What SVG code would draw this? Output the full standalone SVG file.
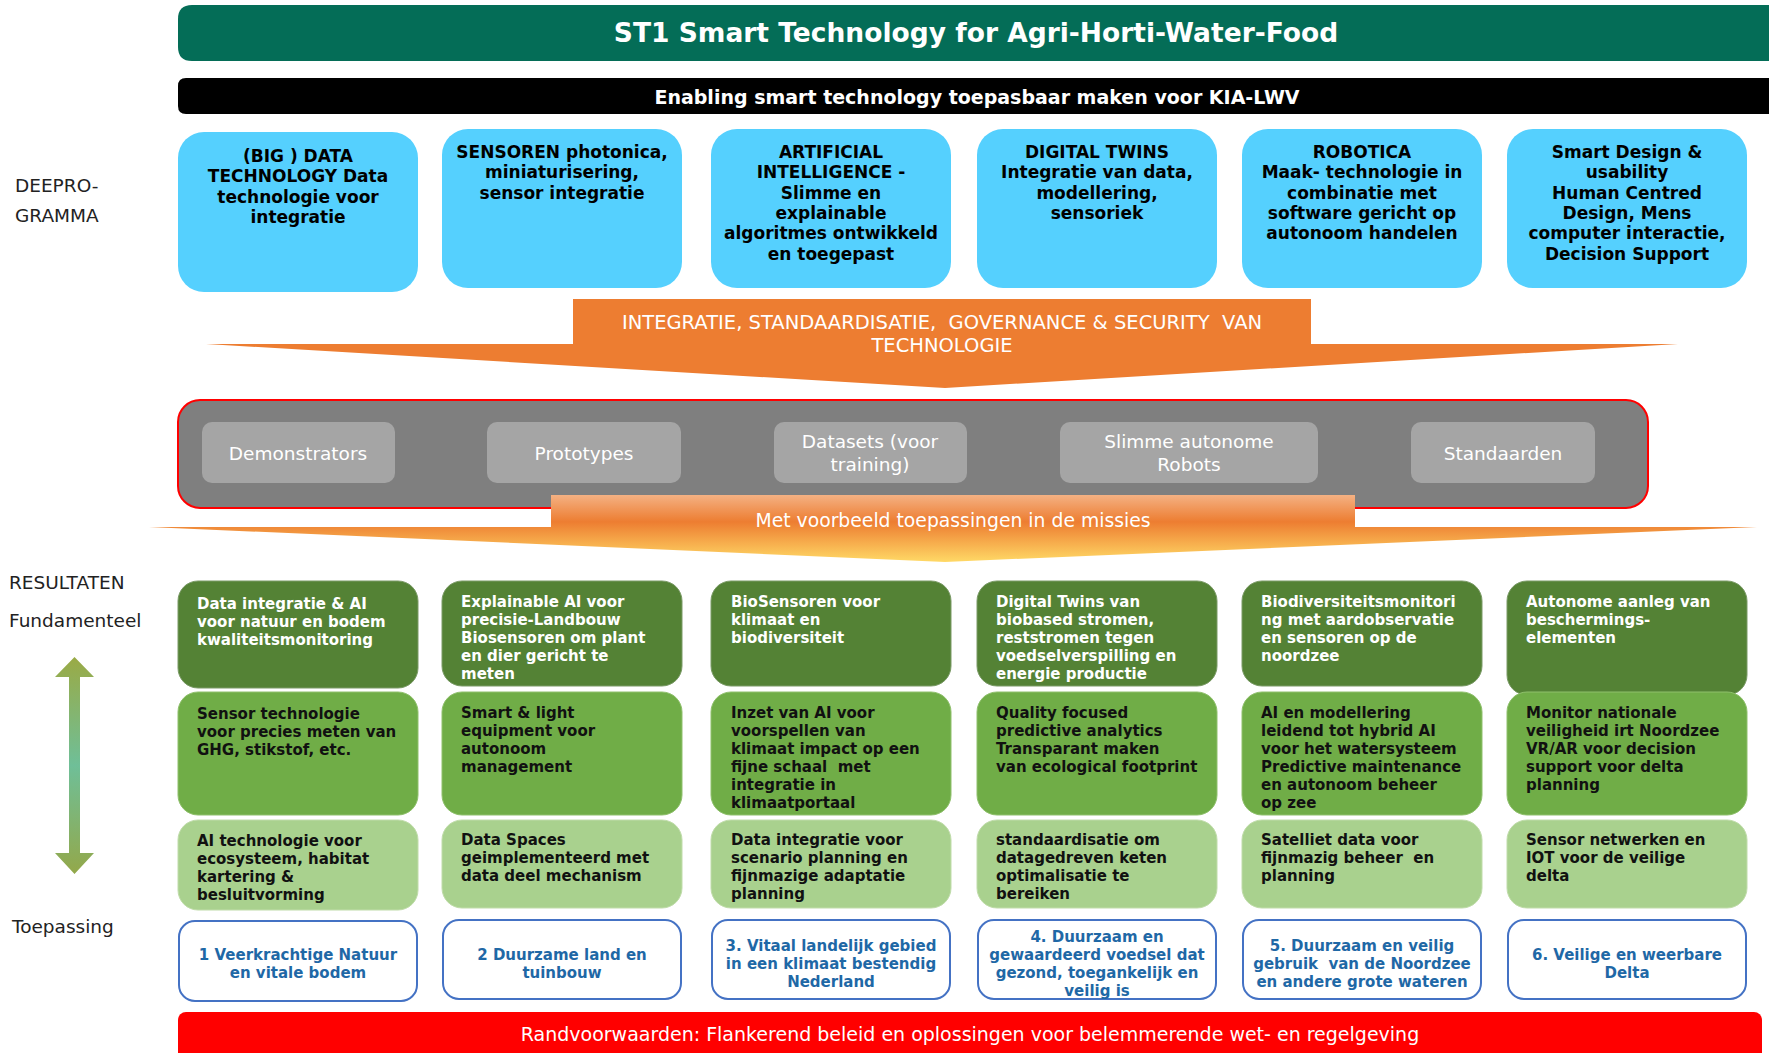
<svg xmlns="http://www.w3.org/2000/svg" width="1769" height="1053" viewBox="0 0 1769 1053">
<style>
text{font-family:"DejaVu Sans","Liberation Sans",sans-serif}
.lbl{font-size:18.5px;fill:#222}
.bt{font-size:17px;font-weight:bold;fill:#000;text-anchor:middle}
.gt{font-size:18.5px;fill:#fff;text-anchor:middle}
.r1{fill:#548235;stroke:#7a9a66;stroke-width:1}
.r2{fill:#70ad47;stroke:#8fc06c;stroke-width:1}
.r3{fill:#a9d18e;stroke:#c0dcaa;stroke-width:1}
.r4{fill:#fff;stroke:#4472c4;stroke-width:2}
.w{font-size:15px;font-weight:bold;fill:#fff}
.k{font-size:15px;font-weight:bold;fill:#111}
.m{font-size:15px;font-weight:bold;fill:#1f68a6;text-anchor:middle}
.blue{fill:#55d0fe}
.gray{fill:#a5a5a5}
</style>
<defs>
<linearGradient id="og" x1="0" y1="495" x2="0" y2="562" gradientUnits="userSpaceOnUse">
<stop offset="0" stop-color="#f4b183"/>
<stop offset="0.4" stop-color="#ed7d31"/>
<stop offset="1" stop-color="#ffd966"/>
</linearGradient>
<linearGradient id="ag" x1="0" y1="657" x2="0" y2="874" gradientUnits="userSpaceOnUse">
<stop offset="0" stop-color="#9aaa45"/>
<stop offset="0.5" stop-color="#6fbf98"/>
<stop offset="1" stop-color="#93a84a"/>
</linearGradient>
</defs>

<g id="title">
<path d="M192,5 H1769 V61 H192 Q178,61 178,47 V19 Q178,5 192,5 Z" fill="#046d57"/>
<text x="976" y="42" style="font-size:26.5px;font-weight:bold;fill:#fff;text-anchor:middle">ST1 Smart Technology for Agri-Horti-Water-Food</text>
</g>
<g id="enabling">
<path d="M186,78 H1769 V114 H186 Q178,114 178,106 V86 Q178,78 186,78 Z" fill="#000"/>
<text x="977" y="104" style="font-size:19px;font-weight:bold;fill:#fff;text-anchor:middle">Enabling smart technology toepasbaar maken voor KIA-LWV</text>
</g>

<g id="side-labels">
<text class="lbl" x="15" y="192">DEEPRO-</text>
<text class="lbl" x="15" y="222">GRAMMA</text>
<text class="lbl" x="9" y="589">RESULTATEN</text>
<text class="lbl" x="9" y="627">Fundamenteel</text>
<text class="lbl" x="12" y="933">Toepassing</text>
</g>

<g id="deep-1"><rect class="blue" x="178" y="132" width="240" height="160" rx="26"/>
<text class="bt" x="298" y="162">(BIG ) DATA</text><text class="bt" x="298" y="182">TECHNOLOGY Data</text><text class="bt" x="298" y="203">technologie voor</text><text class="bt" x="298" y="223">integratie</text></g>
<g id="deep-2"><rect class="blue" x="442" y="129" width="240" height="159" rx="26"/>
<text class="bt" x="562" y="158">SENSOREN photonica,</text><text class="bt" x="562" y="178">miniaturisering,</text><text class="bt" x="562" y="199">sensor integratie</text></g>
<g id="deep-3"><rect class="blue" x="711" y="129" width="240" height="159" rx="26"/>
<text class="bt" x="831" y="158">ARTIFICIAL</text><text class="bt" x="831" y="178">INTELLIGENCE -</text><text class="bt" x="831" y="199">Slimme en</text><text class="bt" x="831" y="219">explainable</text><text class="bt" x="831" y="239">algoritmes ontwikkeld</text><text class="bt" x="831" y="260">en toegepast</text></g>
<g id="deep-4"><rect class="blue" x="977" y="129" width="240" height="159" rx="26"/>
<text class="bt" x="1097" y="158">DIGITAL TWINS</text><text class="bt" x="1097" y="178">Integratie van data,</text><text class="bt" x="1097" y="199">modellering,</text><text class="bt" x="1097" y="219">sensoriek</text></g>
<g id="deep-5"><rect class="blue" x="1242" y="129" width="240" height="159" rx="26"/>
<text class="bt" x="1362" y="158">ROBOTICA</text><text class="bt" x="1362" y="178">Maak- technologie in</text><text class="bt" x="1362" y="199">combinatie met</text><text class="bt" x="1362" y="219">software gericht op</text><text class="bt" x="1362" y="239">autonoom handelen</text></g>
<g id="deep-6"><rect class="blue" x="1507" y="129" width="240" height="159" rx="26"/>
<text class="bt" x="1627" y="158">Smart Design &amp;</text><text class="bt" x="1627" y="178">usability</text><text class="bt" x="1627" y="199">Human Centred</text><text class="bt" x="1627" y="219">Design, Mens</text><text class="bt" x="1627" y="239">computer interactie,</text><text class="bt" x="1627" y="260">Decision Support</text></g>

<g id="integratie-arrow">
<polygon points="573,299 1311,299 1311,344 1678,344 945,388 206,344 573,344" fill="#ed7d31"/>
<text x="942" y="329" style="font-size:19.5px;fill:#fff;text-anchor:middle" xml:space="preserve">INTEGRATIE, STANDAARDISATIE,  GOVERNANCE &amp; SECURITY  VAN</text>
<text x="942" y="352" style="font-size:19.5px;fill:#fff;text-anchor:middle">TECHNOLOGIE</text>
</g>

<g id="resultaten-panel">
<rect x="178" y="400" width="1470" height="108" rx="22" fill="#7f7f7f" stroke="#ff0000" stroke-width="2"/>
</g>
<g id="demonstrators"><rect class="gray" x="202" y="422" width="193" height="61" rx="10"/><text class="gt" x="298" y="460">Demonstrators</text></g>
<g id="prototypes"><rect class="gray" x="487" y="422" width="194" height="61" rx="10"/><text class="gt" x="584" y="460">Prototypes</text></g>
<g id="datasets"><rect class="gray" x="774" y="422" width="193" height="61" rx="10"/><text class="gt" x="870" y="448">Datasets (voor</text><text class="gt" x="870" y="471">training)</text></g>
<g id="robots"><rect class="gray" x="1060" y="422" width="258" height="61" rx="10"/><text class="gt" x="1189" y="448">Slimme autonome</text><text class="gt" x="1189" y="471">Robots</text></g>
<g id="standaarden"><rect class="gray" x="1411" y="422" width="184" height="61" rx="10"/><text class="gt" x="1503" y="460">Standaarden</text></g>

<g id="missies-arrow">
<polygon points="551,495 1355,495 1355,527 1757,527 945,562 149,527 551,527" fill="url(#og)"/>
<text x="953" y="527" style="font-size:18.8px;fill:#fff;text-anchor:middle">Met voorbeeld toepassingen in de missies</text>
</g>

<g id="connectors">
<polygon points="74.5,657 94,677 80,677 80,853 94,853 74.5,874 55,853 69,853 69,677 55,677" fill="url(#ag)"/>
</g>

<g id="row1-c1"><rect class="r1" x="178" y="581" width="240" height="107" rx="20"/>
<text class="w" x="197" y="609">Data integratie &amp; AI</text><text class="w" x="197" y="627">voor natuur en bodem</text><text class="w" x="197" y="645">kwaliteitsmonitoring</text></g>
<g id="row1-c2"><rect class="r1" x="442" y="581" width="240" height="105" rx="20"/>
<text class="w" x="461" y="607">Explainable AI voor</text><text class="w" x="461" y="625">precisie-Landbouw</text><text class="w" x="461" y="643">Biosensoren om plant</text><text class="w" x="461" y="661">en dier gericht te</text><text class="w" x="461" y="679">meten</text></g>
<g id="row1-c3"><rect class="r1" x="711" y="581" width="240" height="105" rx="20"/>
<text class="w" x="731" y="607">BioSensoren voor</text><text class="w" x="731" y="625">klimaat en</text><text class="w" x="731" y="643">biodiversiteit</text></g>
<g id="row1-c4"><rect class="r1" x="977" y="581" width="240" height="105" rx="20"/>
<text class="w" x="996" y="607">Digital Twins van</text><text class="w" x="996" y="625">biobased stromen,</text><text class="w" x="996" y="643">reststromen tegen</text><text class="w" x="996" y="661">voedselverspilling en</text><text class="w" x="996" y="679">energie productie</text></g>
<g id="row1-c5"><rect class="r1" x="1242" y="581" width="240" height="105" rx="20"/>
<text class="w" x="1261" y="607">Biodiversiteitsmonitori</text><text class="w" x="1261" y="625">ng met aardobservatie</text><text class="w" x="1261" y="643">en sensoren op de</text><text class="w" x="1261" y="661">noordzee</text></g>
<g id="row1-c6"><rect class="r1" x="1507" y="581" width="240" height="114" rx="20"/>
<text class="w" x="1526" y="607">Autonome aanleg van</text><text class="w" x="1526" y="625">beschermings-</text><text class="w" x="1526" y="643">elementen</text></g>

<g id="row2-c1"><rect class="r2" x="178" y="692" width="240" height="123" rx="20"/>
<text class="k" x="197" y="719">Sensor technologie</text><text class="k" x="197" y="737">voor precies meten van</text><text class="k" x="197" y="755">GHG, stikstof, etc.</text></g>
<g id="row2-c2"><rect class="r2" x="442" y="692" width="240" height="123" rx="20"/>
<text class="k" x="461" y="718">Smart &amp; light</text><text class="k" x="461" y="736">equipment voor</text><text class="k" x="461" y="754">autonoom</text><text class="k" x="461" y="772">management</text></g>
<g id="row2-c3"><rect class="r2" x="711" y="692" width="240" height="123" rx="20"/>
<text class="k" x="731" y="718">Inzet van AI voor</text><text class="k" x="731" y="736">voorspellen van</text><text class="k" x="731" y="754">klimaat impact op een</text><text class="k" x="731" y="772" xml:space="preserve">fijne schaal  met</text><text class="k" x="731" y="790">integratie in</text><text class="k" x="731" y="808">klimaatportaal</text></g>
<g id="row2-c4"><rect class="r2" x="977" y="692" width="240" height="123" rx="20"/>
<text class="k" x="996" y="718">Quality focused</text><text class="k" x="996" y="736">predictive analytics</text><text class="k" x="996" y="754">Transparant maken</text><text class="k" x="996" y="772">van ecological footprint</text></g>
<g id="row2-c5"><rect class="r2" x="1242" y="692" width="240" height="123" rx="20"/>
<text class="k" x="1261" y="718">AI en modellering</text><text class="k" x="1261" y="736">leidend tot hybrid AI</text><text class="k" x="1261" y="754">voor het watersysteem</text><text class="k" x="1261" y="772">Predictive maintenance</text><text class="k" x="1261" y="790">en autonoom beheer</text><text class="k" x="1261" y="808">op zee</text></g>
<g id="row2-c6"><rect class="r2" x="1507" y="692" width="240" height="123" rx="20"/>
<text class="k" x="1526" y="718">Monitor nationale</text><text class="k" x="1526" y="736">veiligheid irt Noordzee</text><text class="k" x="1526" y="754">VR/AR voor decision</text><text class="k" x="1526" y="772">support voor delta</text><text class="k" x="1526" y="790">planning</text></g>

<g id="row3-c1"><rect class="r3" x="178" y="820" width="240" height="90" rx="20"/>
<text class="k" x="197" y="846">AI technologie voor</text><text class="k" x="197" y="864">ecosysteem, habitat</text><text class="k" x="197" y="882">kartering &amp;</text><text class="k" x="197" y="900">besluitvorming</text></g>
<g id="row3-c2"><rect class="r3" x="442" y="820" width="240" height="88" rx="20"/>
<text class="k" x="461" y="845">Data Spaces</text><text class="k" x="461" y="863">geimplementeerd met</text><text class="k" x="461" y="881">data deel mechanism</text></g>
<g id="row3-c3"><rect class="r3" x="711" y="820" width="240" height="88" rx="20"/>
<text class="k" x="731" y="845">Data integratie voor</text><text class="k" x="731" y="863">scenario planning en</text><text class="k" x="731" y="881">fijnmazige adaptatie</text><text class="k" x="731" y="899">planning</text></g>
<g id="row3-c4"><rect class="r3" x="977" y="820" width="240" height="88" rx="20"/>
<text class="k" x="996" y="845">standaardisatie om</text><text class="k" x="996" y="863">datagedreven keten</text><text class="k" x="996" y="881">optimalisatie te</text><text class="k" x="996" y="899">bereiken</text></g>
<g id="row3-c5"><rect class="r3" x="1242" y="820" width="240" height="88" rx="20"/>
<text class="k" x="1261" y="845">Satelliet data voor</text><text class="k" x="1261" y="863" xml:space="preserve">fijnmazig beheer  en</text><text class="k" x="1261" y="881">planning</text></g>
<g id="row3-c6"><rect class="r3" x="1507" y="820" width="240" height="88" rx="20"/>
<text class="k" x="1526" y="845">Sensor netwerken en</text><text class="k" x="1526" y="863">IOT voor de veilige</text><text class="k" x="1526" y="881">delta</text></g>

<g id="missie-1"><rect class="r4" x="179" y="921" width="238" height="80" rx="16"/>
<text class="m" x="298" y="960">1 Veerkrachtige Natuur</text><text class="m" x="298" y="978">en vitale bodem</text></g>
<g id="missie-2"><rect class="r4" x="443" y="920" width="238" height="79" rx="16"/>
<text class="m" x="562" y="960">2 Duurzame land en</text><text class="m" x="562" y="978">tuinbouw</text></g>
<g id="missie-3"><rect class="r4" x="712" y="920" width="238" height="79" rx="16"/>
<text class="m" x="831" y="951">3. Vitaal landelijk gebied</text><text class="m" x="831" y="969">in een klimaat bestendig</text><text class="m" x="831" y="987">Nederland</text></g>
<g id="missie-4"><rect class="r4" x="978" y="920" width="238" height="79" rx="16"/>
<text class="m" x="1097" y="942">4. Duurzaam en</text><text class="m" x="1097" y="960">gewaardeerd voedsel dat</text><text class="m" x="1097" y="978">gezond, toegankelijk en</text><text class="m" x="1097" y="996">veilig is</text></g>
<g id="missie-5"><rect class="r4" x="1243" y="920" width="238" height="79" rx="16"/>
<text class="m" x="1362" y="951">5. Duurzaam en veilig</text><text class="m" x="1362" y="969" xml:space="preserve">gebruik  van de Noordzee</text><text class="m" x="1362" y="987">en andere grote wateren</text></g>
<g id="missie-6"><rect class="r4" x="1508" y="920" width="238" height="79" rx="16"/>
<text class="m" x="1627" y="960">6. Veilige en weerbare</text><text class="m" x="1627" y="978">Delta</text></g>

<g id="randvoorwaarden">
<rect x="178" y="1012" width="1584" height="60" rx="8" fill="#ff0000"/>
<text x="970" y="1041" style="font-size:19px;fill:#fff;text-anchor:middle">Randvoorwaarden: Flankerend beleid en oplossingen voor belemmerende wet- en regelgeving</text>
</g>
</svg>
